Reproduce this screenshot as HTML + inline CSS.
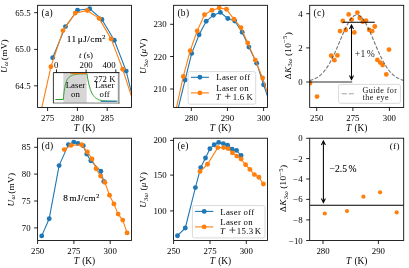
<!DOCTYPE html><html><head><meta charset="utf-8"><style>html,body{margin:0;padding:0;background:#fff;}svg{display:block;will-change:transform;}</style></head><body><svg width="409" height="268" viewBox="0 0 409 268" font-family='"Liberation Serif", serif'>
<rect width="409" height="268" fill="#fff"/>
<defs>
<clipPath id="c00"><rect x="37.6" y="5.3" width="93.9" height="102.2"/></clipPath>
<clipPath id="c01"><rect x="37.6" y="138.2" width="93.9" height="102.30000000000001"/></clipPath>
<clipPath id="c10"><rect x="173.6" y="5.3" width="93.9" height="102.2"/></clipPath>
<clipPath id="c11"><rect x="173.6" y="138.2" width="93.9" height="102.30000000000001"/></clipPath>
<clipPath id="c20"><rect x="309.7" y="5.3" width="94.0" height="102.2"/></clipPath>
<clipPath id="c21"><rect x="309.7" y="138.2" width="94.0" height="102.30000000000001"/></clipPath>
</defs>
<g clip-path="url(#c00)">
<polyline points="52.70,57.80 65.50,26.60 77.50,10.20 89.70,8.70 101.90,19.50 114.30,40.20 126.20,71.10 138.20,120.50" fill="none" stroke="#1f77b4" stroke-width="1.1" stroke-linejoin="round" />
<circle cx="52.70" cy="57.80" r="2.45" fill="#1f77b4"/>
<circle cx="65.50" cy="26.60" r="2.45" fill="#1f77b4"/>
<circle cx="77.50" cy="10.20" r="2.45" fill="#1f77b4"/>
<circle cx="89.70" cy="8.70" r="2.45" fill="#1f77b4"/>
<circle cx="101.90" cy="19.50" r="2.45" fill="#1f77b4"/>
<circle cx="114.30" cy="40.20" r="2.45" fill="#1f77b4"/>
<circle cx="126.20" cy="71.10" r="2.45" fill="#1f77b4"/>
<circle cx="138.20" cy="120.50" r="2.45" fill="#1f77b4"/>
<polyline points="38.90,120.80 50.90,66.80 63.00,30.60 75.30,13.10 87.30,10.50 99.10,18.40 111.10,38.90 122.70,69.30 134.60,106.00" fill="none" stroke="#ff7f0e" stroke-width="1.1" stroke-linejoin="round" />
<circle cx="38.90" cy="120.80" r="2.45" fill="#ff7f0e"/>
<circle cx="50.90" cy="66.80" r="2.45" fill="#ff7f0e"/>
<circle cx="63.00" cy="30.60" r="2.45" fill="#ff7f0e"/>
<circle cx="75.30" cy="13.10" r="2.45" fill="#ff7f0e"/>
<circle cx="87.30" cy="10.50" r="2.45" fill="#ff7f0e"/>
<circle cx="99.10" cy="18.40" r="2.45" fill="#ff7f0e"/>
<circle cx="111.10" cy="38.90" r="2.45" fill="#ff7f0e"/>
<circle cx="122.70" cy="69.30" r="2.45" fill="#ff7f0e"/>
<circle cx="134.60" cy="106.00" r="2.45" fill="#ff7f0e"/>
</g>
<rect x="53.4" y="72.6" width="65.19999999999999" height="30.400000000000006" fill="#fff"/>
<rect x="63.3" y="72.6" width="23.400000000000006" height="30.400000000000006" fill="#d6d6d6"/>
<polyline points="55.30,99.50 63.30,99.50 63.55,96.69 63.80,94.26 64.05,92.13 64.30,90.28 64.55,88.66 64.80,87.24 65.05,85.99 65.30,84.88 65.55,83.91 65.80,83.04 66.05,82.27 66.30,81.58 66.55,80.96 66.80,80.41 67.05,79.91 67.30,79.46 67.55,79.05 67.80,78.68 68.05,78.34 68.30,78.03 68.55,77.74 68.80,77.48 69.05,77.24 69.30,77.02 69.55,76.81 69.80,76.62 70.05,76.45 70.30,76.28 70.55,76.13 70.80,75.99 71.05,75.86 71.30,75.73 71.55,75.61 71.80,75.50 72.05,75.40 72.30,75.31 72.55,75.22 72.80,75.13 73.05,75.05 73.30,74.98 73.55,74.91 73.80,74.84 74.05,74.78 74.30,74.72 74.55,74.66 74.80,74.61 75.05,74.56 75.30,74.51 75.55,74.47 75.80,74.43 76.05,74.39 76.30,74.35 76.55,74.31 76.80,74.28 77.05,74.25 77.30,74.22 77.55,74.19 77.80,74.16 78.05,74.14 78.30,74.11 78.55,74.09 78.80,74.07 79.05,74.05 79.30,74.03 79.55,74.01 79.80,74.00 80.05,73.98 80.30,73.97 80.55,73.95 80.80,73.94 81.05,73.92 81.30,73.91 81.55,73.90 81.80,73.89 82.05,73.88 82.30,73.87 82.55,73.86 82.80,73.85 83.05,73.84 83.30,73.84 83.55,73.83 83.80,73.82 84.05,73.82 84.30,73.81 84.55,73.80 84.80,73.80 85.05,73.79 85.30,73.79 85.55,73.78 85.80,73.78 86.05,73.77 86.30,73.77 86.55,73.77 86.80,73.76 87.05,73.76 87.40,76.91 87.90,79.70 88.40,82.17 88.90,84.35 89.40,86.29 89.90,88.00 90.40,89.51 90.90,90.86 91.40,92.04 91.90,93.09 92.40,94.03 92.90,94.85 93.40,95.58 93.90,96.22 94.40,96.79 94.90,97.30 95.40,97.75 95.90,98.14 96.40,98.50 96.90,98.81 97.40,99.08 97.90,99.32 98.40,99.54 98.90,99.73 99.40,99.90 99.90,100.05 100.40,100.18 100.90,100.30 101.40,100.40 101.90,100.49 102.40,100.57 102.90,100.65 103.40,100.71 103.90,100.77 104.40,100.82 104.90,100.86 105.40,100.90 105.90,100.93 106.40,100.96 106.90,100.99 107.40,101.02 107.90,101.04 108.40,101.06 108.90,101.07 109.40,101.09 109.90,101.10 110.40,101.11 110.90,101.12 111.40,101.13 111.90,101.14 112.40,101.15 112.90,101.15 113.40,101.16 113.90,101.16 114.40,101.17 114.90,101.17 115.40,101.17 115.90,101.18 116.40,101.18 116.90,101.18 117.40,101.18" fill="none" stroke="#2ca02c" stroke-width="1.0" stroke-linejoin="round" />
<line x1="70.40" y1="73.60" x2="86.60" y2="73.60" stroke="#ff7f0e" stroke-width="1.1" />
<line x1="100.60" y1="101.30" x2="116.60" y2="101.30" stroke="#1f77b4" stroke-width="1.1" />
<rect x="117.8" y="72.6" width="1.8" height="31.0" fill="#9a9a9a"/>
<rect x="53.4" y="102.5" width="66.2" height="1.1" fill="#8c8c8c"/>
<line x1="53.40" y1="72.60" x2="119.40" y2="72.60" stroke="#000" stroke-width="0.9" />
<line x1="53.40" y1="72.60" x2="53.40" y2="103.30" stroke="#222" stroke-width="0.9" />
<line x1="56.50" y1="72.60" x2="56.50" y2="69.40" stroke="#000" stroke-width="0.85" />
<line x1="86.10" y1="72.60" x2="86.10" y2="69.40" stroke="#000" stroke-width="0.85" />
<line x1="115.80" y1="72.60" x2="115.80" y2="69.40" stroke="#000" stroke-width="0.85" />
<text x="56.20" y="67.60" text-anchor="middle" font-size="8.8" >0</text>
<text x="86.10" y="67.60" text-anchor="middle" font-size="8.8" >200</text>
<text x="109.00" y="67.60" text-anchor="middle" font-size="8.8" >400</text>
<text x="86.00" y="58.30" text-anchor="middle" font-size="8.8" ><tspan font-style="italic">t</tspan> (s)</text>
<text x="75.50" y="87.80" text-anchor="middle" font-size="8.8" >Laser</text>
<text x="75.50" y="96.90" text-anchor="middle" font-size="8.8" >on</text>
<text x="104.70" y="81.70" text-anchor="middle" font-size="8.8" >272 K</text>
<text x="104.70" y="87.70" text-anchor="middle" font-size="8.8" >Laser</text>
<text x="104.60" y="96.90" text-anchor="middle" font-size="8.8" >off</text>
<text x="86.40" y="41.90" text-anchor="middle" font-size="9.2" letter-spacing="0.45" stroke="#000" stroke-width="0.12">11<tspan dx="1.2">μJ/cm</tspan><tspan dy="-3.4" font-size="6.4">2</tspan></text>
<rect x="37.60" y="5.30" width="93.90" height="102.20" fill="none" stroke="#000" stroke-width="0.85"/>
<line x1="34.10" y1="12.70" x2="37.60" y2="12.70" stroke="#000" stroke-width="0.85" />
<text x="30.60" y="15.70" text-anchor="end" font-size="8.8" >65.5</text>
<line x1="34.10" y1="49.40" x2="37.60" y2="49.40" stroke="#000" stroke-width="0.85" />
<text x="30.60" y="52.40" text-anchor="end" font-size="8.8" >65.0</text>
<line x1="34.10" y1="85.80" x2="37.60" y2="85.80" stroke="#000" stroke-width="0.85" />
<text x="30.60" y="88.80" text-anchor="end" font-size="8.8" >64.5</text>
<line x1="47.60" y1="107.50" x2="47.60" y2="111.00" stroke="#000" stroke-width="0.85" />
<text x="47.60" y="120.70" text-anchor="middle" font-size="8.8" >275</text>
<line x1="77.40" y1="107.50" x2="77.40" y2="111.00" stroke="#000" stroke-width="0.85" />
<text x="77.40" y="120.70" text-anchor="middle" font-size="8.8" >280</text>
<line x1="107.20" y1="107.50" x2="107.20" y2="111.00" stroke="#000" stroke-width="0.85" />
<text x="107.20" y="120.70" text-anchor="middle" font-size="8.8" >285</text>
<text x="84.50" y="130.70" text-anchor="middle" font-size="9.3" ><tspan font-style="italic">T</tspan><tspan dx="0.9"> (K)</tspan></text>
<text transform="translate(7.30,56.00) rotate(-90)" text-anchor="middle" font-size="9.2" letter-spacing="0.3"><tspan font-style="italic">U</tspan><tspan font-style="italic" font-size="6.4" dy="0.9">ω</tspan><tspan dy="-0.9" dx="1.0">(mV)</tspan></text>
<text x="41.50" y="16.10" text-anchor="start" font-size="9.5" letter-spacing="0.3">(a)</text>
<g clip-path="url(#c10)">
<polyline points="171.50,134.00 178.40,107.30 185.10,80.00 191.70,53.40 199.10,34.70 206.20,21.30 213.30,15.20 220.40,12.40 227.80,18.50 234.70,21.00 242.20,32.20 248.90,47.10 256.70,63.20 263.60,84.70 270.80,106.00" fill="none" stroke="#1f77b4" stroke-width="1.1" stroke-linejoin="round" />
<circle cx="185.10" cy="80.00" r="2.45" fill="#1f77b4"/>
<circle cx="191.70" cy="53.40" r="2.45" fill="#1f77b4"/>
<circle cx="199.10" cy="34.70" r="2.45" fill="#1f77b4"/>
<circle cx="206.20" cy="21.30" r="2.45" fill="#1f77b4"/>
<circle cx="213.30" cy="15.20" r="2.45" fill="#1f77b4"/>
<circle cx="220.40" cy="12.40" r="2.45" fill="#1f77b4"/>
<circle cx="227.80" cy="18.50" r="2.45" fill="#1f77b4"/>
<circle cx="234.70" cy="21.00" r="2.45" fill="#1f77b4"/>
<circle cx="242.20" cy="32.20" r="2.45" fill="#1f77b4"/>
<circle cx="248.90" cy="47.10" r="2.45" fill="#1f77b4"/>
<circle cx="256.70" cy="63.20" r="2.45" fill="#1f77b4"/>
<circle cx="263.60" cy="84.70" r="2.45" fill="#1f77b4"/>
<circle cx="270.80" cy="106.00" r="2.45" fill="#1f77b4"/>
<polyline points="169.50,130.00 176.50,107.30 183.30,76.40 190.20,50.70 197.20,31.00 204.50,14.80 211.90,10.30 219.20,7.90 226.50,9.30 233.90,19.10 241.00,27.70 247.70,42.90 255.30,60.10 262.60,78.00 269.80,100.00" fill="none" stroke="#ff7f0e" stroke-width="1.1" stroke-linejoin="round" />
<circle cx="183.30" cy="76.40" r="2.45" fill="#ff7f0e"/>
<circle cx="190.20" cy="50.70" r="2.45" fill="#ff7f0e"/>
<circle cx="197.20" cy="31.00" r="2.45" fill="#ff7f0e"/>
<circle cx="204.50" cy="14.80" r="2.45" fill="#ff7f0e"/>
<circle cx="211.90" cy="10.30" r="2.45" fill="#ff7f0e"/>
<circle cx="219.20" cy="7.90" r="2.45" fill="#ff7f0e"/>
<circle cx="226.50" cy="9.30" r="2.45" fill="#ff7f0e"/>
<circle cx="233.90" cy="19.10" r="2.45" fill="#ff7f0e"/>
<circle cx="241.00" cy="27.70" r="2.45" fill="#ff7f0e"/>
<circle cx="247.70" cy="42.90" r="2.45" fill="#ff7f0e"/>
<circle cx="255.30" cy="60.10" r="2.45" fill="#ff7f0e"/>
<circle cx="262.60" cy="78.00" r="2.45" fill="#ff7f0e"/>
<circle cx="269.80" cy="100.00" r="2.45" fill="#ff7f0e"/>
</g>
<rect x="173.60" y="5.30" width="93.90" height="102.20" fill="none" stroke="#000" stroke-width="0.85"/>
<line x1="170.10" y1="24.30" x2="173.60" y2="24.30" stroke="#000" stroke-width="0.85" />
<text x="166.60" y="27.30" text-anchor="end" font-size="8.8" >230</text>
<line x1="170.10" y1="56.50" x2="173.60" y2="56.50" stroke="#000" stroke-width="0.85" />
<text x="166.60" y="59.50" text-anchor="end" font-size="8.8" >220</text>
<line x1="170.10" y1="89.00" x2="173.60" y2="89.00" stroke="#000" stroke-width="0.85" />
<text x="166.60" y="92.00" text-anchor="end" font-size="8.8" >210</text>
<line x1="191.30" y1="107.50" x2="191.30" y2="111.00" stroke="#000" stroke-width="0.85" />
<text x="191.30" y="120.70" text-anchor="middle" font-size="8.8" >280</text>
<line x1="227.45" y1="107.50" x2="227.45" y2="111.00" stroke="#000" stroke-width="0.85" />
<text x="227.45" y="120.70" text-anchor="middle" font-size="8.8" >290</text>
<line x1="263.60" y1="107.50" x2="263.60" y2="111.00" stroke="#000" stroke-width="0.85" />
<text x="263.60" y="120.70" text-anchor="middle" font-size="8.8" >300</text>
<text x="220.50" y="130.70" text-anchor="middle" font-size="9.3" ><tspan font-style="italic">T</tspan><tspan dx="0.9"> (K)</tspan></text>
<text transform="translate(146.30,56.20) rotate(-90)" text-anchor="middle" font-size="9.2" letter-spacing="0.3"><tspan font-style="italic">U</tspan><tspan font-size="6.4" dy="1.2">3<tspan font-style="italic">ω</tspan></tspan><tspan dy="-1.2" dx="2.0">(<tspan font-style="italic">μ</tspan>V)</tspan></text>
<text x="177.40" y="16.10" text-anchor="start" font-size="9.5" letter-spacing="0.3">(b)</text>
<rect x="188.1" y="71.6" width="67.6" height="32.6" rx="1.8" fill="#fff" fill-opacity="0.85" stroke="#d0d0d0" stroke-width="0.8"/>
<line x1="190.90" y1="77.30" x2="208.90" y2="77.30" stroke="#1f77b4" stroke-width="1.1" />
<circle cx="199.90" cy="77.30" r="2.45" fill="#1f77b4"/>
<line x1="190.90" y1="92.90" x2="208.90" y2="92.90" stroke="#ff7f0e" stroke-width="1.1" />
<circle cx="199.90" cy="92.90" r="2.45" fill="#ff7f0e"/>
<text x="216.30" y="80.10" text-anchor="start" font-size="8.8" letter-spacing="0.25">Laser off</text>
<text x="216.30" y="90.50" text-anchor="start" font-size="8.8" letter-spacing="0.25">Laser on</text>
<text y="99.7" font-size="8.8"><tspan x="215.8" font-style="italic">T</tspan><tspan x="232.7" letter-spacing="0.25">1.6</tspan><tspan x="246.6">K</tspan></text>
<line x1="224.90" y1="96.30" x2="230.50" y2="96.30" stroke="#000" stroke-width="0.6" />
<line x1="227.70" y1="93.50" x2="227.70" y2="99.10" stroke="#000" stroke-width="0.6" />
<g clip-path="url(#c20)">
<circle cx="309.90" cy="83.20" r="2.4" fill="#ff7f0e"/>
<circle cx="317.00" cy="96.60" r="2.4" fill="#ff7f0e"/>
<circle cx="331.20" cy="55.70" r="2.4" fill="#ff7f0e"/>
<circle cx="337.40" cy="55.40" r="2.4" fill="#ff7f0e"/>
<circle cx="334.40" cy="60.20" r="2.4" fill="#ff7f0e"/>
<circle cx="340.00" cy="31.10" r="2.4" fill="#ff7f0e"/>
<circle cx="342.80" cy="21.00" r="2.4" fill="#ff7f0e"/>
<circle cx="345.70" cy="30.00" r="2.4" fill="#ff7f0e"/>
<circle cx="348.70" cy="14.40" r="2.4" fill="#ff7f0e"/>
<circle cx="351.70" cy="19.60" r="2.4" fill="#ff7f0e"/>
<circle cx="354.30" cy="32.40" r="2.4" fill="#ff7f0e"/>
<circle cx="357.40" cy="12.60" r="2.4" fill="#ff7f0e"/>
<circle cx="359.80" cy="18.00" r="2.4" fill="#ff7f0e"/>
<circle cx="362.80" cy="21.70" r="2.4" fill="#ff7f0e"/>
<circle cx="366.00" cy="20.60" r="2.4" fill="#ff7f0e"/>
<circle cx="369.20" cy="29.80" r="2.4" fill="#ff7f0e"/>
<circle cx="372.20" cy="31.10" r="2.4" fill="#ff7f0e"/>
<circle cx="374.80" cy="26.50" r="2.4" fill="#ff7f0e"/>
<circle cx="377.40" cy="59.90" r="2.4" fill="#ff7f0e"/>
<circle cx="380.20" cy="62.60" r="2.4" fill="#ff7f0e"/>
<circle cx="382.60" cy="65.10" r="2.4" fill="#ff7f0e"/>
<circle cx="386.30" cy="74.40" r="2.4" fill="#ff7f0e"/>
<circle cx="389.00" cy="49.60" r="2.4" fill="#ff7f0e"/>
<polyline points="309.70,80.51 310.20,80.39 310.70,80.26 311.20,80.11 311.70,79.96 312.20,79.80 312.70,79.62 313.20,79.44 313.70,79.24 314.20,79.03 314.70,78.81 315.20,78.57 315.70,78.32 316.20,78.05 316.70,77.77 317.20,77.47 317.70,77.15 318.20,76.82 318.70,76.47 319.20,76.09 319.70,75.70 320.20,75.29 320.70,74.86 321.20,74.41 321.70,73.93 322.20,73.44 322.70,72.92 323.20,72.38 323.70,71.81 324.20,71.22 324.70,70.60 325.20,69.96 325.70,69.30 326.20,68.61 326.70,67.89 327.20,67.15 327.70,66.38 328.20,65.59 328.70,64.77 329.20,63.93 329.70,63.06 330.20,62.17 330.70,61.25 331.20,60.31 331.70,59.34 332.20,58.36 332.70,57.35 333.20,56.32 333.70,55.27 334.20,54.20 334.70,53.11 335.20,52.00 335.70,50.88 336.20,49.75 336.70,48.60 337.20,47.44 337.70,46.27 338.20,45.10 338.70,43.91 339.20,42.73 339.70,41.54 340.20,40.35 340.70,39.16 341.20,37.97 341.70,36.80 342.20,35.63 342.70,34.47 343.20,33.32 343.70,32.18 344.20,31.07 344.70,29.97 345.20,28.90 345.70,27.85 346.20,26.83 346.70,25.83 347.20,24.87 347.70,23.94 348.20,23.04 348.70,22.18 349.20,21.36 349.70,20.59 350.20,19.85 350.70,19.16 351.20,18.52 351.70,17.93 352.20,17.38 352.70,16.89 353.20,16.45 353.70,16.06 354.20,15.73 354.70,15.45 355.20,15.23 355.70,15.06 356.20,14.95 356.70,14.90 357.20,14.91 357.70,14.97 358.20,15.09 358.70,15.27 359.20,15.50 359.70,15.79 360.20,16.13 360.70,16.53 361.20,16.98 361.70,17.49 362.20,18.04 362.70,18.65 363.20,19.30 363.70,20.00 364.20,20.74 364.70,21.53 365.20,22.35 365.70,23.22 366.20,24.12 366.70,25.06 367.20,26.03 367.70,27.03 368.20,28.06 368.70,29.11 369.20,30.19 369.70,31.29 370.20,32.41 370.70,33.55 371.20,34.70 371.70,35.86 372.20,37.03 372.70,38.21 373.20,39.40 373.70,40.58 374.20,41.77 374.70,42.96 375.20,44.15 375.70,45.33 376.20,46.51 376.70,47.67 377.20,48.83 377.70,49.98 378.20,51.11 378.70,52.23 379.20,53.33 379.70,54.41 380.20,55.48 380.70,56.53 381.20,57.55 381.70,58.56 382.20,59.54 382.70,60.50 383.20,61.44 383.70,62.35 384.20,63.24 384.70,64.10 385.20,64.94 385.70,65.75 386.20,66.54 386.70,67.30 387.20,68.04 387.70,68.75 388.20,69.43 388.70,70.09 389.20,70.73 389.70,71.34 390.20,71.92 390.70,72.49 391.20,73.02 391.70,73.54 392.20,74.03 392.70,74.50 393.20,74.95 393.70,75.38 394.20,75.78 394.70,76.17 395.20,76.54 395.70,76.89 396.20,77.22 396.70,77.53 397.20,77.82 397.70,78.10 398.20,78.37 398.70,78.62 399.20,78.85 399.70,79.07 400.20,79.28 400.70,79.48 401.20,79.66 401.70,79.83 402.20,79.99 402.70,80.14 403.20,80.28 403.70,80.41" fill="none" stroke="#000" stroke-width="1.1" stroke-linejoin="round" stroke-dasharray="3.7,1.6" stroke-opacity="0.55"/>
<line x1="309.70" y1="82.00" x2="352.20" y2="82.00" stroke="#000" stroke-width="1.5" stroke-opacity="0.55"/>
<line x1="342.80" y1="22.20" x2="374.80" y2="22.20" stroke="#000" stroke-width="1.1" />
<line x1="351.50" y1="25.50" x2="351.50" y2="79.00" stroke="#000" stroke-width="1.05" />
<path d="M349.50,29.10 L351.50,24.90 L353.50,29.10" fill="none" stroke="#000" stroke-width="1.05" stroke-linejoin="miter"/>
<path d="M349.50,75.40 L351.50,79.60 L353.50,75.40" fill="none" stroke="#000" stroke-width="1.05" stroke-linejoin="miter"/>
</g>
<text x="365.00" y="57.00" text-anchor="middle" font-size="9.6" fill="#222" letter-spacing="0.3">+1<tspan dx="1.2">%</tspan></text>
<rect x="338.6" y="84.4" width="61.8" height="18.9" rx="1.8" fill="#fff" fill-opacity="0.85" stroke="#d0d0d0" stroke-width="0.8"/>
<line x1="341.80" y1="93.80" x2="355.20" y2="93.80" stroke="#a0a0a0" stroke-width="1.0" stroke-dasharray="5,2"/>
<text x="362.50" y="92.50" text-anchor="start" font-size="8.1" letter-spacing="0.4" fill="#111">Guide for</text>
<text x="362.50" y="99.70" text-anchor="start" font-size="8.1" letter-spacing="0.5" fill="#111">the eye</text>
<rect x="309.70" y="5.30" width="94.00" height="102.20" fill="none" stroke="#000" stroke-width="0.85"/>
<line x1="306.20" y1="13.70" x2="309.70" y2="13.70" stroke="#000" stroke-width="0.85" />
<text x="302.70" y="16.70" text-anchor="end" font-size="8.8" >4</text>
<line x1="306.20" y1="47.90" x2="309.70" y2="47.90" stroke="#000" stroke-width="0.85" />
<text x="302.70" y="50.90" text-anchor="end" font-size="8.8" >2</text>
<line x1="306.20" y1="82.00" x2="309.70" y2="82.00" stroke="#000" stroke-width="0.85" />
<text x="302.70" y="85.00" text-anchor="end" font-size="8.8" >0</text>
<line x1="316.70" y1="107.50" x2="316.70" y2="111.00" stroke="#000" stroke-width="0.85" />
<text x="316.70" y="120.70" text-anchor="middle" font-size="8.8" >250</text>
<line x1="352.90" y1="107.50" x2="352.90" y2="111.00" stroke="#000" stroke-width="0.85" />
<text x="352.90" y="120.70" text-anchor="middle" font-size="8.8" >275</text>
<line x1="389.40" y1="107.50" x2="389.40" y2="111.00" stroke="#000" stroke-width="0.85" />
<text x="389.40" y="120.70" text-anchor="middle" font-size="8.8" >300</text>
<text x="356.70" y="130.70" text-anchor="middle" font-size="9.3" ><tspan font-style="italic">T</tspan><tspan dx="0.9"> (K)</tspan></text>
<text transform="translate(290.60,55.60) rotate(-90)" text-anchor="middle" font-size="9.2" letter-spacing="0.3">Δ<tspan font-style="italic">K</tspan><tspan font-size="6.4" dy="1.2">3<tspan font-style="italic">ω</tspan></tspan><tspan dy="-1.2" dx="2.2">(10</tspan><tspan font-size="6.6" dy="-3.4">−5</tspan><tspan dy="3.4">)</tspan></text>
<text x="313.50" y="16.10" text-anchor="start" font-size="9.5" letter-spacing="0.3">(c)</text>
<g clip-path="url(#c01)">
<polyline points="41.70,235.90 49.20,218.70 59.10,165.60 68.40,144.60 73.80,142.10 77.90,143.40 83.30,145.80 86.70,154.10 90.80,160.70 100.80,171.30 103.80,181.50" fill="none" stroke="#1f77b4" stroke-width="1.1" stroke-linejoin="round" />
<circle cx="41.70" cy="235.90" r="2.45" fill="#1f77b4"/>
<circle cx="49.20" cy="218.70" r="2.45" fill="#1f77b4"/>
<circle cx="59.10" cy="165.60" r="2.45" fill="#1f77b4"/>
<circle cx="68.40" cy="144.60" r="2.45" fill="#1f77b4"/>
<circle cx="73.80" cy="142.10" r="2.45" fill="#1f77b4"/>
<circle cx="77.90" cy="143.40" r="2.45" fill="#1f77b4"/>
<circle cx="83.30" cy="145.80" r="2.45" fill="#1f77b4"/>
<circle cx="86.70" cy="154.10" r="2.45" fill="#1f77b4"/>
<circle cx="90.80" cy="160.70" r="2.45" fill="#1f77b4"/>
<circle cx="100.80" cy="171.30" r="2.45" fill="#1f77b4"/>
<circle cx="103.80" cy="181.50" r="2.45" fill="#1f77b4"/>
<polyline points="64.30,149.60 71.00,145.40 81.60,144.80 87.40,152.00 92.00,158.90 96.10,168.70 100.60,176.10 104.90,182.40 109.50,195.20 113.90,203.90 118.10,214.10 122.70,220.10 127.10,232.90" fill="none" stroke="#ff7f0e" stroke-width="1.1" stroke-linejoin="round" />
<circle cx="64.30" cy="149.60" r="2.45" fill="#ff7f0e"/>
<circle cx="71.00" cy="145.40" r="2.45" fill="#ff7f0e"/>
<circle cx="81.60" cy="144.80" r="2.45" fill="#ff7f0e"/>
<circle cx="87.40" cy="152.00" r="2.45" fill="#ff7f0e"/>
<circle cx="92.00" cy="158.90" r="2.45" fill="#ff7f0e"/>
<circle cx="96.10" cy="168.70" r="2.45" fill="#ff7f0e"/>
<circle cx="100.60" cy="176.10" r="2.45" fill="#ff7f0e"/>
<circle cx="104.90" cy="182.40" r="2.45" fill="#ff7f0e"/>
<circle cx="109.50" cy="195.20" r="2.45" fill="#ff7f0e"/>
<circle cx="113.90" cy="203.90" r="2.45" fill="#ff7f0e"/>
<circle cx="118.10" cy="214.10" r="2.45" fill="#ff7f0e"/>
<circle cx="122.70" cy="220.10" r="2.45" fill="#ff7f0e"/>
<circle cx="127.10" cy="232.90" r="2.45" fill="#ff7f0e"/>
</g>
<rect x="37.60" y="138.20" width="93.90" height="102.30" fill="none" stroke="#000" stroke-width="0.85"/>
<line x1="34.10" y1="147.30" x2="37.60" y2="147.30" stroke="#000" stroke-width="0.85" />
<text x="30.60" y="150.30" text-anchor="end" font-size="8.8" >85</text>
<line x1="34.10" y1="174.10" x2="37.60" y2="174.10" stroke="#000" stroke-width="0.85" />
<text x="30.60" y="177.10" text-anchor="end" font-size="8.8" >80</text>
<line x1="34.10" y1="201.00" x2="37.60" y2="201.00" stroke="#000" stroke-width="0.85" />
<text x="30.60" y="204.00" text-anchor="end" font-size="8.8" >75</text>
<line x1="34.10" y1="227.90" x2="37.60" y2="227.90" stroke="#000" stroke-width="0.85" />
<text x="30.60" y="230.90" text-anchor="end" font-size="8.8" >70</text>
<line x1="37.60" y1="240.50" x2="37.60" y2="244.00" stroke="#000" stroke-width="0.85" />
<text x="37.60" y="253.90" text-anchor="middle" font-size="8.8" >250</text>
<line x1="73.90" y1="240.50" x2="73.90" y2="244.00" stroke="#000" stroke-width="0.85" />
<text x="73.90" y="253.90" text-anchor="middle" font-size="8.8" >275</text>
<line x1="110.20" y1="240.50" x2="110.20" y2="244.00" stroke="#000" stroke-width="0.85" />
<text x="110.20" y="253.90" text-anchor="middle" font-size="8.8" >300</text>
<text x="84.50" y="263.90" text-anchor="middle" font-size="9.3" ><tspan font-style="italic">T</tspan><tspan dx="0.9"> (K)</tspan></text>
<text transform="translate(13.70,189.60) rotate(-90)" text-anchor="middle" font-size="9.2" letter-spacing="0.3"><tspan font-style="italic">U</tspan><tspan font-style="italic" font-size="6.4" dy="0.9">ω</tspan><tspan dy="-0.9" dx="1.0">(mV)</tspan></text>
<text x="41.50" y="149.20" text-anchor="start" font-size="9.5" letter-spacing="0.3">(d)</text>
<text x="81.50" y="200.90" text-anchor="middle" font-size="9.2" letter-spacing="0.45" stroke="#000" stroke-width="0.12">8<tspan dx="1.2">mJ/cm</tspan><tspan dy="-3.4" font-size="6.4">2</tspan></text>
<g clip-path="url(#c11)">
<polyline points="177.50,235.70 185.30,228.00 195.40,187.60 200.70,167.60 205.50,158.00 209.90,148.70 214.20,144.80 218.70,142.40 223.30,143.60 227.60,145.20 232.10,149.20 236.50,150.40 241.10,155.50" fill="none" stroke="#1f77b4" stroke-width="1.1" stroke-linejoin="round" />
<circle cx="177.50" cy="235.70" r="2.45" fill="#1f77b4"/>
<circle cx="185.30" cy="228.00" r="2.45" fill="#1f77b4"/>
<circle cx="195.40" cy="187.60" r="2.45" fill="#1f77b4"/>
<circle cx="200.70" cy="167.60" r="2.45" fill="#1f77b4"/>
<circle cx="205.50" cy="158.00" r="2.45" fill="#1f77b4"/>
<circle cx="209.90" cy="148.70" r="2.45" fill="#1f77b4"/>
<circle cx="214.20" cy="144.80" r="2.45" fill="#1f77b4"/>
<circle cx="218.70" cy="142.40" r="2.45" fill="#1f77b4"/>
<circle cx="223.30" cy="143.60" r="2.45" fill="#1f77b4"/>
<circle cx="227.60" cy="145.20" r="2.45" fill="#1f77b4"/>
<circle cx="232.10" cy="149.20" r="2.45" fill="#1f77b4"/>
<circle cx="236.50" cy="150.40" r="2.45" fill="#1f77b4"/>
<circle cx="241.10" cy="155.50" r="2.45" fill="#1f77b4"/>
<polyline points="200.00,171.50 207.50,164.30 217.80,147.60 223.60,147.60 228.00,148.60 232.50,152.90 236.80,156.10 241.10,159.00 245.60,164.80 249.90,169.40 254.40,174.60 258.90,177.30 263.40,184.00" fill="none" stroke="#ff7f0e" stroke-width="1.1" stroke-linejoin="round" />
<circle cx="200.00" cy="171.50" r="2.45" fill="#ff7f0e"/>
<circle cx="207.50" cy="164.30" r="2.45" fill="#ff7f0e"/>
<circle cx="217.80" cy="147.60" r="2.45" fill="#ff7f0e"/>
<circle cx="223.60" cy="147.60" r="2.45" fill="#ff7f0e"/>
<circle cx="228.00" cy="148.60" r="2.45" fill="#ff7f0e"/>
<circle cx="232.50" cy="152.90" r="2.45" fill="#ff7f0e"/>
<circle cx="236.80" cy="156.10" r="2.45" fill="#ff7f0e"/>
<circle cx="241.10" cy="159.00" r="2.45" fill="#ff7f0e"/>
<circle cx="245.60" cy="164.80" r="2.45" fill="#ff7f0e"/>
<circle cx="249.90" cy="169.40" r="2.45" fill="#ff7f0e"/>
<circle cx="254.40" cy="174.60" r="2.45" fill="#ff7f0e"/>
<circle cx="258.90" cy="177.30" r="2.45" fill="#ff7f0e"/>
<circle cx="263.40" cy="184.00" r="2.45" fill="#ff7f0e"/>
</g>
<rect x="173.60" y="138.20" width="93.90" height="102.30" fill="none" stroke="#000" stroke-width="0.85"/>
<line x1="170.10" y1="140.40" x2="173.60" y2="140.40" stroke="#000" stroke-width="0.85" />
<text x="166.60" y="143.40" text-anchor="end" font-size="8.8" >200</text>
<line x1="170.10" y1="175.10" x2="173.60" y2="175.10" stroke="#000" stroke-width="0.85" />
<text x="166.60" y="178.10" text-anchor="end" font-size="8.8" >150</text>
<line x1="170.10" y1="210.90" x2="173.60" y2="210.90" stroke="#000" stroke-width="0.85" />
<text x="166.60" y="213.90" text-anchor="end" font-size="8.8" >100</text>
<line x1="173.60" y1="240.50" x2="173.60" y2="244.00" stroke="#000" stroke-width="0.85" />
<text x="173.60" y="253.90" text-anchor="middle" font-size="8.8" >250</text>
<line x1="210.00" y1="240.50" x2="210.00" y2="244.00" stroke="#000" stroke-width="0.85" />
<text x="210.00" y="253.90" text-anchor="middle" font-size="8.8" >275</text>
<line x1="246.30" y1="240.50" x2="246.30" y2="244.00" stroke="#000" stroke-width="0.85" />
<text x="246.30" y="253.90" text-anchor="middle" font-size="8.8" >300</text>
<text x="220.50" y="263.90" text-anchor="middle" font-size="9.3" ><tspan font-style="italic">T</tspan><tspan dx="0.9"> (K)</tspan></text>
<text transform="translate(146.30,189.90) rotate(-90)" text-anchor="middle" font-size="9.2" letter-spacing="0.3"><tspan font-style="italic">U</tspan><tspan font-size="6.4" dy="1.2">3<tspan font-style="italic">ω</tspan></tspan><tspan dy="-1.2" dx="2.0">(<tspan font-style="italic">μ</tspan>V)</tspan></text>
<text x="177.40" y="149.20" text-anchor="start" font-size="9.5" letter-spacing="0.3">(e)</text>
<rect x="192.4" y="205.6" width="72.6" height="32.3" rx="1.8" fill="#fff" fill-opacity="0.85" stroke="#d0d0d0" stroke-width="0.8"/>
<line x1="195.10" y1="211.40" x2="213.30" y2="211.40" stroke="#1f77b4" stroke-width="1.1" />
<circle cx="204.20" cy="211.40" r="2.45" fill="#1f77b4"/>
<line x1="195.10" y1="226.90" x2="213.30" y2="226.90" stroke="#ff7f0e" stroke-width="1.1" />
<circle cx="204.20" cy="226.90" r="2.45" fill="#ff7f0e"/>
<text x="220.30" y="214.70" text-anchor="start" font-size="8.8" letter-spacing="0.25">Laser off</text>
<text x="220.30" y="224.50" text-anchor="start" font-size="8.8" letter-spacing="0.25">Laser on</text>
<line x1="229.40" y1="230.10" x2="235.40" y2="230.10" stroke="#000" stroke-width="0.6" />
<line x1="232.40" y1="227.10" x2="232.40" y2="233.10" stroke="#000" stroke-width="0.6" />
<text y="233.6" font-size="8.8"><tspan x="219.9" font-style="italic">T</tspan><tspan x="236.7" letter-spacing="0.35">15.3</tspan><tspan x="254.7">K</tspan></text>
<g clip-path="url(#c21)">
<line x1="309.70" y1="205.20" x2="403.70" y2="205.20" stroke="#000" stroke-width="1.1" />
<line x1="323.40" y1="141.50" x2="323.40" y2="202.00" stroke="#000" stroke-width="1.05" />
<path d="M321.40,145.10 L323.40,140.90 L325.40,145.10" fill="none" stroke="#000" stroke-width="1.05" stroke-linejoin="miter"/>
<path d="M321.40,198.40 L323.40,202.60 L325.40,198.40" fill="none" stroke="#000" stroke-width="1.05" stroke-linejoin="miter"/>
<circle cx="324.80" cy="213.50" r="2.1" fill="#ff7f0e"/>
<circle cx="347.00" cy="211.10" r="2.1" fill="#ff7f0e"/>
<circle cx="363.40" cy="196.70" r="2.1" fill="#ff7f0e"/>
<circle cx="380.10" cy="192.30" r="2.1" fill="#ff7f0e"/>
<circle cx="396.70" cy="212.40" r="2.1" fill="#ff7f0e"/>
</g>
<text x="343.00" y="171.90" text-anchor="middle" font-size="9.6" letter-spacing="0.05" stroke="#000" stroke-width="0.1">−2.5<tspan dx="1.4">%</tspan></text>
<rect x="309.70" y="138.20" width="94.00" height="102.30" fill="none" stroke="#000" stroke-width="0.85"/>
<line x1="306.20" y1="138.30" x2="309.70" y2="138.30" stroke="#000" stroke-width="0.85" />
<text x="302.70" y="141.30" text-anchor="end" font-size="8.8" >0</text>
<line x1="306.20" y1="158.60" x2="309.70" y2="158.60" stroke="#000" stroke-width="0.85" />
<text x="302.70" y="161.60" text-anchor="end" font-size="8.8" >−2</text>
<line x1="306.20" y1="179.00" x2="309.70" y2="179.00" stroke="#000" stroke-width="0.85" />
<text x="302.70" y="182.00" text-anchor="end" font-size="8.8" >−4</text>
<line x1="306.20" y1="199.40" x2="309.70" y2="199.40" stroke="#000" stroke-width="0.85" />
<text x="302.70" y="202.40" text-anchor="end" font-size="8.8" >−6</text>
<line x1="306.20" y1="219.90" x2="309.70" y2="219.90" stroke="#000" stroke-width="0.85" />
<text x="302.70" y="222.90" text-anchor="end" font-size="8.8" >−8</text>
<line x1="306.20" y1="240.50" x2="309.70" y2="240.50" stroke="#000" stroke-width="0.85" />
<text x="302.70" y="243.50" text-anchor="end" font-size="8.8" >−10</text>
<line x1="323.00" y1="240.50" x2="323.00" y2="244.00" stroke="#000" stroke-width="0.85" />
<text x="323.00" y="253.90" text-anchor="middle" font-size="8.8" >280</text>
<line x1="378.40" y1="240.50" x2="378.40" y2="244.00" stroke="#000" stroke-width="0.85" />
<text x="378.40" y="253.90" text-anchor="middle" font-size="8.8" >290</text>
<text x="356.70" y="263.90" text-anchor="middle" font-size="9.3" ><tspan font-style="italic">T</tspan><tspan dx="0.9"> (K)</tspan></text>
<text transform="translate(286.40,188.30) rotate(-90)" text-anchor="middle" font-size="9.2" letter-spacing="0.3">Δ<tspan font-style="italic">K</tspan><tspan font-size="6.4" dy="1.2">3<tspan font-style="italic">ω</tspan></tspan><tspan dy="-1.2" dx="2.2">(10</tspan><tspan font-size="6.6" dy="-3.4">−5</tspan><tspan dy="3.4">)</tspan></text>
<text x="389.80" y="148.70" text-anchor="start" font-size="9.0" letter-spacing="0.3">(f)</text>
</svg></body></html>
